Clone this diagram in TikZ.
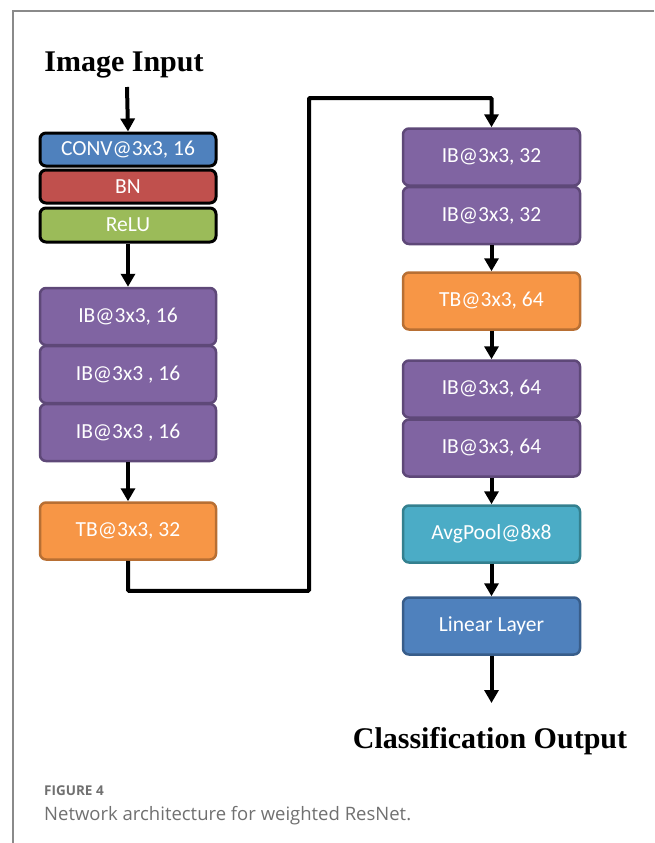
\documentclass[tikz,border=0pt]{standalone}
\usepackage{fontspec}
\setmainfont{Liberation Serif}
\newfontfamily\boxfont{Carlito}
\newfontfamily\capfont{Open Sans}
\usetikzlibrary{arrows.meta}

\definecolor{convblue}{HTML}{4F81BD}
\definecolor{bnred}{HTML}{C0504D}
\definecolor{relugreen}{HTML}{9BBB59}
\definecolor{ibfill}{HTML}{8064A2}
\definecolor{ibdraw}{HTML}{5E4878}
\definecolor{tbfill}{HTML}{F79646}
\definecolor{tbdraw}{HTML}{B86F33}
\definecolor{poolfill}{HTML}{4BACC6}
\definecolor{pooldraw}{HTML}{34808F}
\definecolor{lindraw}{HTML}{385D8A}
\definecolor{framegray}{HTML}{8A8A8A}
\definecolor{capgray}{HTML}{707070}

\begin{document}
\begin{tikzpicture}[x=1pt,y=-1pt]
\tikzstyle{block}=[rounded corners=6pt, text=white, font=\boxfont\fontsize{21.5}{24}\selectfont, inner sep=0pt]
\tikzstyle{headblock}=[block, draw=black, line width=3pt, minimum width=176pt, minimum height=33pt]
\tikzstyle{ibblock}=[block, fill=ibfill, draw=ibdraw, line width=2.5pt, minimum width=176pt, minimum height=57pt]
\tikzstyle{tbblock}=[block, fill=tbfill, draw=tbdraw, line width=2.5pt, minimum width=176pt, minimum height=57pt]
\tikzstyle{conn}=[line width=4pt, -{Triangle[width=14pt,length=13pt]}]
\tikzstyle{title}=[font=\fontsize{30}{32}\selectfont\bfseries, inner sep=0pt]
\useasboundingbox (0,0) rectangle (654,843);
\draw [framegray, line width=1.5pt] (654,11) -- (13,11) -- (13,843);
% left column
\node [title, anchor=base] (imgin) at (124,71) {Image Input};
\coordinate (inTop) at (127,87);
\node [headblock, fill=convblue] (conv) at (128,149.5) {CONV@3x3, 16};
\node [headblock, fill=bnred] (bn) at (128,186.5) {BN};
\node [headblock, fill=relugreen, minimum height=34pt] (relu) at (128,225) {ReLU};
\node [ibblock] (ib16a) at (128,316.5) {IB@3x3, 16};
\node [ibblock] (ib16b) at (128,374.5) {IB@3x3 , 16};
\node [ibblock] (ib16c) at (128,432.5) {IB@3x3 , 16};
\node [tbblock] (tb32) at (128,531) {TB@3x3, 32};
% right column
\node [ibblock, minimum width=177pt] (ib32a) at (491.5,157) {IB@3x3, 32};
\node [ibblock, minimum width=177pt] (ib32b) at (491.5,215.5) {IB@3x3, 32};
\node [tbblock, minimum width=177pt] (tb64) at (491.5,301) {TB@3x3, 64};
\node [ibblock, minimum width=177pt] (ib64a) at (491.5,389) {IB@3x3, 64};
\node [ibblock, minimum width=177pt] (ib64b) at (491.5,448) {IB@3x3, 64};
\node [block, fill=poolfill, draw=pooldraw, line width=2.5pt, minimum width=177pt, minimum height=57pt] (pool) at (491.5,534) {AvgPool@8x8};
\node [block, fill=convblue, draw=lindraw, line width=2.5pt, minimum width=177pt, minimum height=57pt] (linear) at (491.5,626) {Linear Layer};
\coordinate (outEnd) at (491.5,703);
\node [title, anchor=base] (clsout) at (490,748) {Classification Output};
% arrows
\draw [conn] (inTop) -- (conv.north);
\draw [conn] (relu.south) -- (ib16a.north);
\draw [conn] (ib16c.south) -- (tb32.north);
\draw [conn, rounded corners=1pt] (tb32.south) -- ++(0,30) -| (309,98) -| (ib32a.north);
\draw [conn] (ib32b.south) -- (tb64.north);
\draw [conn] (tb64.south) -- (ib64a.north);
\draw [conn] (ib64b.south) -- (pool.north);
\draw [conn] (pool.south) -- (linear.north);
\draw [conn] (linear.south) -- (outEnd);
% caption
\node [anchor=base west, inner sep=0pt, text=capgray, font=\capfont\bfseries\fontsize{13.5}{15}\selectfont] (figno) at (44,795) {FIGURE 4};
\node [anchor=base west, inner sep=0pt, text=capgray, font=\capfont\fontsize{18.5}{20}\selectfont] (figcap) at (44,820) {Network architecture for weighted ResNet.};
\end{tikzpicture}
\end{document}
